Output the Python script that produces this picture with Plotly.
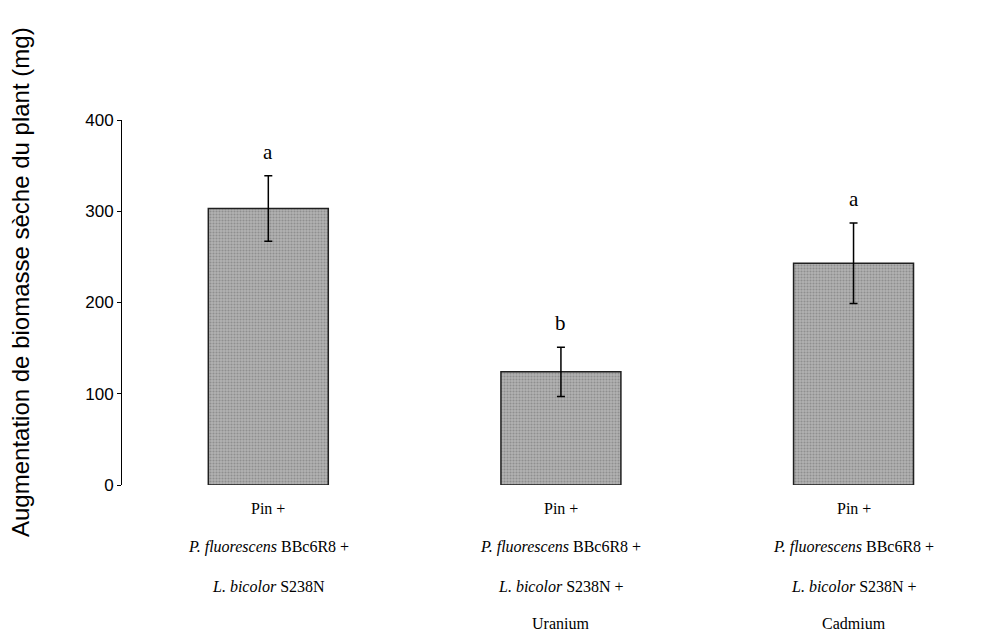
import plotly.graph_objects as go

# ---- data ----
label_lines = [
    ["Pin +", "<i>P. fluorescens</i> BBc6R8 +", "<i>L. bicolor</i> S238N"],
    ["Pin +", "<i>P. fluorescens</i> BBc6R8 +", "<i>L. bicolor</i> S238N +", "Uranium"],
    ["Pin +", "<i>P. fluorescens</i> BBc6R8 +", "<i>L. bicolor</i> S238N +", "Cadmium"],
]
values = [303, 124, 243]
errors = [36, 27, 44]
letters = ["a", "b", "a"]
y_ticks = [0, 100, 200, 300, 400]
y_title = "Augmentation de biomasse sèche du plant (mg)"

# ---- layout geometry (pixels, page coords; page body has 8px margin) ----
OFF = 8
W, H = 994 - OFF, 636 - OFF
L, R, T = 122 - OFF, 0, 120 - OFF
B = H - (485 - OFF)
plot_w = W - L - R
plot_h = H - T - B

def py(pix):
    return (H - B - (pix - OFF)) / plot_h

def pxp(pix):
    return ((pix - OFF) - L) / plot_w

xpos = list(range(len(values)))

fig = go.Figure()
fig.add_trace(go.Bar(
    x=xpos, y=values, width=0.41,
    marker=dict(
        color="#a3a3a3",
        line=dict(color="#202020", width=1.5),
        pattern=dict(shape=".", fgcolor="#6c6c6c", bgcolor="#b2b2b2",
                     size=3, solidity=0.4),
    ),
    error_y=dict(type="data", array=errors, visible=True,
                 color="black", thickness=1.5, width=4),
    showlegend=False, hoverinfo="skip",
))

annotations = []
# significance letters
for x, v, e, l in zip(xpos, values, errors, letters):
    annotations.append(dict(
        x=x, y=v + e, xref="x", yref="y", text=l, showarrow=False,
        yanchor="middle", yshift=24,
        font=dict(family="Liberation Serif", size=21, color="black"),
    ))

# category labels, one annotation per line
line_pix = [508, 547, 586, 623]
for x, lines in zip(xpos, label_lines):
    for i, t in enumerate(lines):
        annotations.append(dict(
            x=x, y=py(line_pix[i]), xref="x", yref="paper", text=t,
            showarrow=False, xanchor="center", yanchor="middle",
            font=dict(family="Liberation Serif", size=16, color="black"),
        ))

# y axis title
annotations.append(dict(
    x=pxp(20), y=py(282), xref="paper", yref="paper", text=y_title,
    showarrow=False, textangle=-90, xanchor="center", yanchor="middle",
    font=dict(family="Liberation Sans", size=24, color="black"),
))

fig.update_layout(
    width=W, height=H,
    margin=dict(l=L, r=R, t=T, b=B, pad=0),
    plot_bgcolor="white", paper_bgcolor="white",
    annotations=annotations,
    xaxis=dict(range=[-0.5, 2.48], showticklabels=False, showline=False,
               showgrid=False, zeroline=False, ticks=""),
    yaxis=dict(range=[0, 400], tickvals=y_ticks, showline=True,
               linecolor="black", linewidth=1, ticks="outside", ticklen=4,
               tickcolor="black", showgrid=False, zeroline=False,
               tickfont=dict(family="Liberation Sans", size=17, color="black")),
)

fig.write_html("out.html")
